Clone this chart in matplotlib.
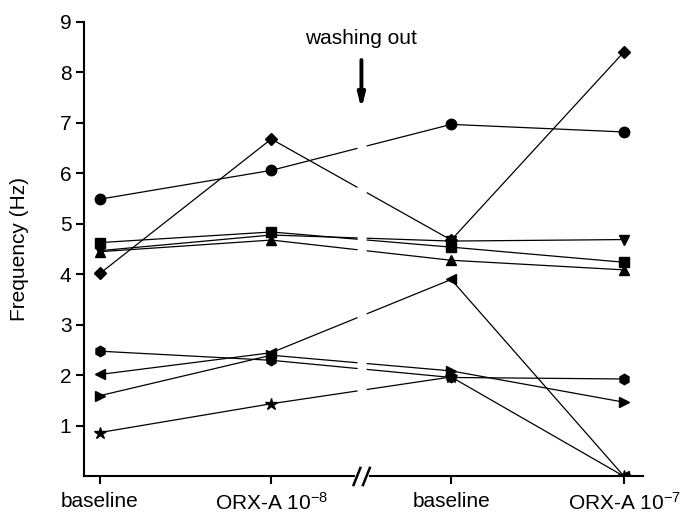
import numpy as np
import matplotlib
matplotlib.use('Agg')
import matplotlib.pyplot as plt

plt.rcParams['font.family'] = ['Liberation Sans', 'DejaVu Sans']
plt.rcParams['mathtext.fontset'] = 'custom'
plt.rcParams['mathtext.rm'] = 'Liberation Sans'
plt.rcParams['mathtext.it'] = 'Liberation Sans'

# Conditions and firing frequency (Hz) of each recorded cell
conditions = ['baseline', 'ORX-A 10$^{-8}$', 'baseline', 'ORX-A 10$^{-7}$']
cell_markers = ['o', 'D', 's', 'v', '^', 'h', '<', '>', '*']
freq_circle = [5.49, 6.06, 6.97, 6.82]
freq_diamond = [4.02, 6.68, 4.68, 8.41]
freq_square = [4.63, 4.84, 4.54, 4.24]
freq_down = [4.47, 4.78, 4.66, 4.69]
freq_up = [4.45, 4.68, 4.28, 4.09]
freq_hex = [2.48, 2.30, 1.96, 1.93]
freq_left = [2.02, 2.45, 3.90, 0.0]
freq_right = [1.60, 2.40, 2.09, 1.47]
freq_star = [0.87, 1.44, 1.97, 0.0]
series = [freq_circle, freq_diamond, freq_square, freq_down, freq_up,
          freq_hex, freq_left, freq_right, freq_star]

# x positions: wider spacing across the washout break
xpos = np.array([0.0, 1.0, 2.05, 3.06])
gap = (1.50, 1.56)

fig = plt.figure(figsize=(6.99, 5.2), dpi=100)
ax = fig.add_axes([0.12, 0.0837, 0.80, 0.8743])

for vals, m in zip(series, cell_markers):
    v = np.array(vals)
    # value at the edges of the washout gap
    y_a = np.interp(gap[0], xpos[1:3], v[1:3])
    y_b = np.interp(gap[1], xpos[1:3], v[1:3])
    ax.plot([xpos[0], xpos[1], gap[0]], [v[0], v[1], y_a], color='black', lw=0.9, zorder=2)
    ax.plot([gap[1], xpos[2], xpos[3]], [y_b, v[2], v[3]], color='black', lw=0.9, zorder=2)
    ms = 6.5 if m == 'D' else (9 if m == '*' else 7.5)
    ax.plot(xpos, v, linestyle='none', marker=m, ms=ms, color='black', zorder=3)

ax.set_xlim(-0.094, 3.17)
ax.set_ylim(0, 9)
ax.set_yticks(range(1, 10))
ax.set_xticks(xpos)
ax.set_xticklabels(conditions)
ax.tick_params(axis='both', direction='out', length=6, width=1.5, labelsize=15)
ax.tick_params(axis='x', pad=5)
ax.tick_params(axis='y', pad=3)
ax.set_ylabel('Frequency (Hz)', fontsize=15, labelpad=22)

for s in ['top', 'right', 'bottom']:
    ax.spines[s].set_visible(False)
ax.spines['left'].set_linewidth(1.5)

# broken x axis with // marks
ax.plot([-0.094, 1.485], [0, 0], color='black', lw=1.5, clip_on=False, zorder=4)
ax.plot([1.575, 3.17], [0, 0], color='black', lw=1.5, clip_on=False, zorder=4)
for xc in [1.50, 1.555]:
    ax.plot([xc - 0.02, xc + 0.02], [-0.17, 0.17], color='black', lw=1.8, clip_on=False, zorder=4)

ax.annotate('', xy=(1.526, 7.22), xytext=(1.526, 8.3),
            arrowprops=dict(arrowstyle='-|>,head_length=0.8,head_width=0.2', color='black', lw=2.8),
            annotation_clip=False)
ax.text(1.526, 8.68, 'washing out', ha='center', va='center', fontsize=15)

plt.savefig('out.png', dpi=100)
